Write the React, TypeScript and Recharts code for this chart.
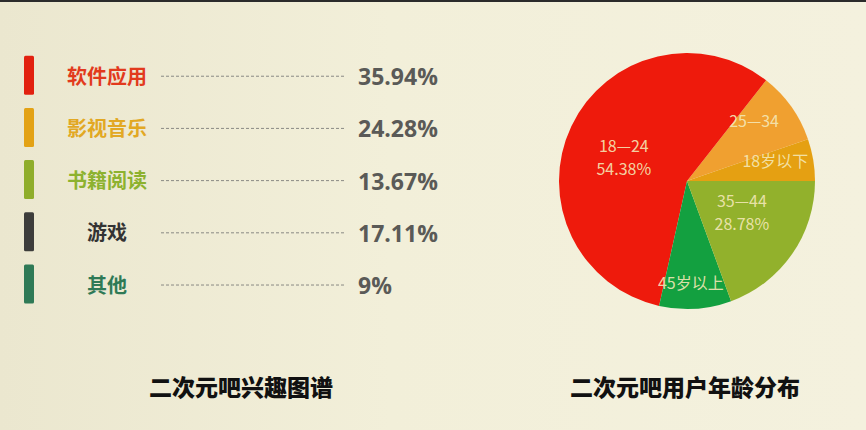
import React from 'react';
import { BarChart, Bar, XAxis, YAxis, PieChart, Pie, Cell } from 'recharts';

// left panel: interest list
const interestNames = ['软件应用', '影视音乐', '书籍阅读', '游戏', '其他'];
const interestValues = [35.94, 24.28, 13.67, 17.11, 9];
const interestLabels = ['35.94%', '24.28%', '13.67%', '17.11%', '9%'];

// right panel: age pie (slice sizes, labels as printed)
const ageNames = ['18岁以下', '25—34', '18—24', '45岁以上', '35—44'];
const ageValues = [5.3, 9.1, 57.1, 9.1, 19.4];
const agePctText = ['', '', '54.38%', '', '28.78%'];

const titles = ['二次元吧兴趣图谱', '二次元吧用户年龄分布'];

const markerColors = ['#e2210f', '#e3a215', '#8fad2b', '#3d3d3b', '#2f7a56'];
const nameColors = ['#e23a1d', '#e2a823', '#8db22f', '#333333', '#2f7a56'];
const pieColors = ['#e5a012', '#f0a030', '#ee1a0c', '#13a040', '#92b12c'];

// [radius factor, angle shift] for the labels inside the pie
const LABEL_PLACE: [number, number][] = [
  [0.71, 4],
  [0.71, 7],
  [0.53, 4],
  [0.79, -1.6],
  [0.49, 6],
];

const CJK = '"Noto Sans CJK SC", "Noto Sans", sans-serif';

const interestData = interestNames.map((name, i) => ({
  name,
  value: interestValues[i],
  label: interestLabels[i],
}));

const ageData = ageNames.map((name, i) => ({ name, value: ageValues[i] }));

const RowShape = (props: any) => {
  const { y, height, index, payload } = props;
  const mid = y + height / 2;
  return (
    <g>
      <rect x={24} y={mid - 19.5} width={10} height={39} rx={1.5} fill={markerColors[index]} />
      <text
        x={107}
        y={mid}
        textAnchor="middle"
        dominantBaseline="central"
        fontFamily={CJK}
        fontWeight={700}
        fontSize={20}
        fill={nameColors[index]}
      >
        {payload.name}
      </text>
      <line x1={161} x2={345} y1={mid + 1} y2={mid + 1} stroke="#8a8a84" strokeWidth={1} strokeDasharray="3 2" />
      <text
        x={358}
        y={mid + 1}
        dominantBaseline="central"
        fontFamily='"Open Sans", sans-serif'
        fontWeight={700}
        fontSize={23}
        fill="#5a5a57"
      >
        {payload.label}
      </text>
    </g>
  );
};

const renderAgeLabel = (p: any) => {
  const RAD = Math.PI / 180;
  const [f, da] = LABEL_PLACE[p.index];
  const a = (p.midAngle + da) * RAD;
  const x = p.cx + p.outerRadius * f * Math.cos(a);
  const y = p.cy - p.outerRadius * f * Math.sin(a);
  const pct = agePctText[p.index];
  const common = {
    textAnchor: 'middle' as const,
    dominantBaseline: 'central' as const,
    fontFamily: CJK,
    fontSize: 16,
    fill: '#f4e8b8',
    fillOpacity: 0.9,
  };
  if (!pct) {
    return (
      <text key={`l${p.index}`} x={x} y={y} {...common}>
        {ageNames[p.index]}
      </text>
    );
  }
  return (
    <g key={`l${p.index}`}>
      <text x={x} y={y - 11.5} {...common}>{ageNames[p.index]}</text>
      <text x={x} y={y + 11.5} {...common}>{pct}</text>
    </g>
  );
};

export default function App() {
  return (
    <div
      style={{
        position: 'absolute',
        left: 0,
        top: 0,
        width: 866,
        height: 430,
        overflow: 'hidden',
        background: 'linear-gradient(90deg, #ebe7cf 0%, #f2efd9 45%, #f4f1de 100%)',
      }}
    >
      <div style={{ position: 'absolute', left: 0, top: 0, width: 866, height: 2, background: '#2b2b2b' }} />

      <div style={{ position: 'absolute', left: 0, top: 0 }}>
        <BarChart
          width={460}
          height={330}
          data={interestData}
          layout="vertical"
          margin={{ top: 49, right: 0, bottom: 20, left: 0 }}
        >
          <XAxis type="number" hide domain={[0, 40]} />
          <YAxis type="category" dataKey="name" hide />
          <Bar dataKey="value" shape={RowShape} isAnimationActive={false} />
        </BarChart>
      </div>

      <div style={{ position: 'absolute', left: 540, top: 0 }}>
        <PieChart width={326} height={360} margin={{ top: 0, right: 0, bottom: 0, left: 0 }}>
          <Pie
            data={ageData}
            dataKey="value"
            nameKey="name"
            cx={147}
            cy={181}
            outerRadius={128}
            startAngle={0}
            endAngle={360}
            stroke="none"
            label={renderAgeLabel}
            labelLine={false}
            isAnimationActive={false}
          >
            {ageData.map((d, i) => (
              <Cell key={d.name} fill={pieColors[i]} />
            ))}
          </Pie>
        </PieChart>
      </div>

      <div
        style={{
          position: 'absolute',
          left: 131,
          top: 370,
          width: 220,
          textAlign: 'center',
          fontFamily: CJK,
          fontWeight: 900,
          fontSize: 23,
          lineHeight: '32px',
          color: '#111',
        }}
      >
        {titles[0]}
      </div>
      <div
        style={{
          position: 'absolute',
          left: 555,
          top: 370,
          width: 260,
          textAlign: 'center',
          fontFamily: CJK,
          fontWeight: 900,
          fontSize: 23,
          lineHeight: '32px',
          color: '#111',
        }}
      >
        {titles[1]}
      </div>
    </div>
  );
}
